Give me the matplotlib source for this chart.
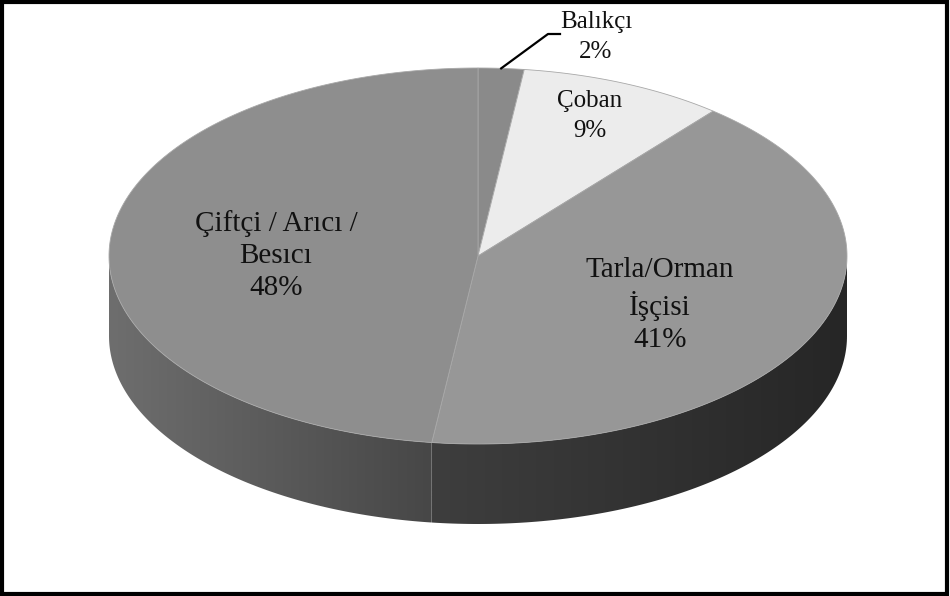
import numpy as np
import matplotlib.pyplot as plt
from matplotlib.patches import Polygon, Rectangle
from matplotlib.colors import LinearSegmentedColormap

# Slice data (clockwise from 12 o'clock, Excel style)
categories = ["Balıkçı", "Çoban", "Tarla/Orman\nİşçisi", "Çiftçi / Arıcı /\nBesıcı"]
shares = [2, 9, 41, 48]

# Styling
top_colors = ["#8a8a8a", "#ececec", "#979797", "#8e8e8e"]
side_colors = [("#7a7a7a", "#6a6a6a"), ("#cfcfcf", "#bdbdbd"),
               ("#3e3e3e", "#262626"), ("#6e6e6e", "#474747")]
label_xy = [(596, 37), (590, 116), (660, 305), (276, 256)]
label_size = [18, 18, 21, 21]
label_spacing = [1.45, 1.5, 1.3, 1.3]

# Pie geometry in pixel space
cx, cy, a, b, depth = 478, 256, 369, 188, 80
start = 90.0

plt.rcParams["font.family"] = ["Liberation Serif", "DejaVu Serif"]
fig = plt.figure(figsize=(9.5, 5.96), dpi=100)
ax = fig.add_axes([0, 0, 1, 1])
ax.set_xlim(0, 950)
ax.set_ylim(596, 0)
ax.axis("off")


def pt(theta_deg, dy=0.0):
    t = np.radians(theta_deg)
    return cx + a * np.cos(t), cy - b * np.sin(t) + dy


cum = np.cumsum([0] + shares) / sum(shares)
bounds = [(start - 360 * cum[i], start - 360 * cum[i + 1]) for i in range(len(shares))]

# Side walls (front half only: angles between -180 and 0)
for i, (t0, t1) in enumerate(bounds):
    seg_lo, seg_hi = max(t1, -180), min(t0, 0)
    if seg_hi <= seg_lo:
        continue
    th = np.linspace(seg_lo, seg_hi, 120)
    top = np.array([pt(t) for t in th])
    bot = np.array([pt(t, depth) for t in th[::-1]])
    verts = np.vstack([top, bot])
    poly = Polygon(verts, closed=True, facecolor="none", edgecolor="none")
    ax.add_patch(poly)
    x0, x1 = verts[:, 0].min(), verts[:, 0].max()
    cmap = LinearSegmentedColormap.from_list("side%d" % i, list(side_colors[i]))
    grad = np.linspace(0, 1, 256).reshape(1, -1)
    im = ax.imshow(grad, cmap=cmap, aspect="auto",
                   extent=[x0, x1, verts[:, 1].max(), verts[:, 1].min()],
                   zorder=1, interpolation="bilinear")
    im.set_clip_path(poly)

# Top faces
for i, (t0, t1) in enumerate(bounds):
    th = np.linspace(t0, t1, 200)
    arc = np.array([pt(t) for t in th])
    verts = np.vstack([[cx, cy], arc])
    ax.add_patch(Polygon(verts, closed=True, facecolor=top_colors[i],
                         edgecolor="#a8a8a8", linewidth=0.6, zorder=2))

# Labels
for i, lab in enumerate(categories):
    txt = "%s\n%d%%" % (lab, shares[i])
    ax.text(label_xy[i][0], label_xy[i][1], txt, ha="center", va="center",
            fontsize=label_size[i], color="#111111",
            linespacing=label_spacing[i], zorder=5)

# Leader line for the small slice
mid = (bounds[0][0] + bounds[0][1]) / 2
sx, sy = pt(mid)
ax.plot([sx, 548, 560], [sy, 34, 34], color="black", linewidth=1.6, zorder=4)

# Outer frame
fig.patches.append(Rectangle((0.002, 0.003), 0.995, 0.993, transform=fig.transFigure,
                             fill=False, edgecolor="black", linewidth=3))

fig.savefig("out.png", dpi=100)
